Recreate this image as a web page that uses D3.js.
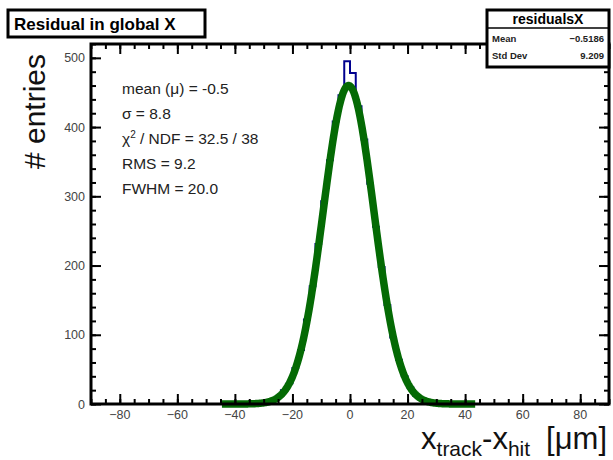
<!DOCTYPE html>
<html>
<head>
<meta charset="utf-8">
<script src="https://cdn.jsdelivr.net/npm/d3@7"></script>
<style>
  html, body { margin: 0; padding: 0; background: #fff; }
  svg { display: block; font-family: "Liberation Sans", Arial, Helvetica, sans-serif; }
</style>
</head>
<body>
<svg id="chart" width="613" height="460"></svg>
<script>
// Histogram of track residuals: bin centres (µm) and entries per bin
const binWidth = 2;
const binCenters = [-37, -35, -33, -31, -29, -27, -25, -23, -21, -19, -17, -15, -13, -11, -9, -7, -5, -3, -1,
                    1, 3, 5, 7, 9, 11, 13, 15, 17, 19, 21, 23, 25, 27, 29, 31, 33];
const binCounts  = [0, 1, 0, 1, 3, 5, 9, 20, 30, 52, 78, 122, 170, 231, 293, 352, 408, 446, 495,
                    478, 430, 382, 318, 256, 198, 143, 96, 64, 40, 24, 12, 7, 3, 2, 1, 0];

// Gaussian fit parameters
const fitConstant = 460;
const fitMean = -0.5;
const fitSigma = 8.8;
const fitRange = [-44.5, 43.5];

// Axis ticks
const xTickValues = [-80, -60, -40, -20, 0, 20, 40, 60, 80];
const yTickValues = [0, 100, 200, 300, 400, 500];

// Annotation and statistics texts
const fitLines = ["mean (\u03bc) = -0.5", "\u03c3 = 8.8", "CHI", "RMS = 9.2", "FWHM = 20.0"];
const statsName = "residualsX";
const statsRows = [["Mean", "\u22120.5186"], ["Std Dev", "9.209"]];
const titleText = "Residual in global X";

const svg = d3.select("#chart");
const frame = { left: 91, right: 609, top: 44, bottom: 404 };

const x = d3.scaleLinear().domain([-90, 90]).range([frame.left, frame.right]);
const y = d3.scaleLinear().domain([0, 520]).range([frame.bottom, frame.top]);

// Histogram outline (step line)
const steps = [];
binCenters.forEach((c, i) => {
  steps.push([c - binWidth / 2, binCounts[i]]);
  steps.push([c + binWidth / 2, binCounts[i]]);
});
const stepLine = d3.line().x(d => x(d[0])).y(d => y(d[1]));
svg.append("path")
  .attr("d", stepLine([[binCenters[0] - binWidth / 2, 0], ...steps, [binCenters[binCenters.length - 1] + binWidth / 2, 0]]))
  .attr("fill", "none")
  .attr("stroke", "#00008f")
  .attr("stroke-width", 2);

// Fit curve
const gauss = v => fitConstant * Math.exp(-0.5 * ((v - fitMean) / fitSigma) ** 2);
const fitPts = d3.range(fitRange[0], fitRange[1] + 0.01, 0.25).map(v => [v, gauss(v)]);
svg.append("path")
  .attr("d", d3.line().x(d => x(d[0])).y(d => y(d[1]))(fitPts))
  .attr("fill", "none")
  .attr("stroke", "#046a04")
  .attr("stroke-width", 7.5)
  .attr("stroke-linejoin", "round");

// Axes: ticks inward on all four sides
function drawTicks(axisGen, transform) {
  const g = svg.append("g").attr("transform", transform).call(axisGen);
  g.select(".domain").remove();
  g.selectAll("line").attr("stroke", "#000").attr("stroke-width", 2);
  return g;
}
const xMinor = d3.range(-90, 91, 5);
const yMinor = d3.range(0, 521, 20);

drawTicks(d3.axisTop(x).tickValues(xMinor).tickSize(5).tickFormat(""), `translate(0,${frame.bottom})`);
drawTicks(d3.axisTop(x).tickValues(xTickValues).tickSize(10).tickFormat(""), `translate(0,${frame.bottom})`);
drawTicks(d3.axisBottom(x).tickValues(xMinor).tickSize(5).tickFormat(""), `translate(0,${frame.top})`);
drawTicks(d3.axisBottom(x).tickValues(xTickValues).tickSize(10).tickFormat(""), `translate(0,${frame.top})`);
drawTicks(d3.axisRight(y).tickValues(yMinor).tickSize(5).tickFormat(""), `translate(${frame.left},0)`);
drawTicks(d3.axisRight(y).tickValues(yTickValues).tickSize(10).tickFormat(""), `translate(${frame.left},0)`);
drawTicks(d3.axisLeft(y).tickValues(yMinor).tickSize(5).tickFormat(""), `translate(${frame.right},0)`);
drawTicks(d3.axisLeft(y).tickValues(yTickValues).tickSize(10).tickFormat(""), `translate(${frame.right},0)`);

// Tick labels
const fmt = v => v < 0 ? "\u2212" + Math.abs(v) : String(v);
svg.append("g").selectAll("text").data(xTickValues).join("text")
  .attr("x", d => x(d)).attr("y", frame.bottom + 15)
  .attr("text-anchor", "middle").attr("font-size", 12.5).attr("fill", "#444")
  .text(fmt);
svg.append("g").selectAll("text").data(yTickValues).join("text")
  .attr("x", frame.left - 6).attr("y", d => y(d) + 4.5)
  .attr("text-anchor", "end").attr("font-size", 12.5).attr("fill", "#444")
  .text(d => d);

// Frame
svg.append("rect")
  .attr("x", frame.left).attr("y", frame.top)
  .attr("width", frame.right - frame.left).attr("height", frame.bottom - frame.top)
  .attr("fill", "none").attr("stroke", "#000").attr("stroke-width", 3);

// Axis titles
svg.append("text")
  .attr("transform", `translate(45,${frame.top + 10}) rotate(-90)`)
  .attr("text-anchor", "end").attr("font-size", 30).attr("fill", "#111")
  .text("# entries");

const xt = svg.append("text")
  .attr("x", 607).attr("y", 449)
  .attr("text-anchor", "end").attr("font-size", 31).attr("fill", "#111");
xt.append("tspan").text("x");
xt.append("tspan").attr("font-size", 21).attr("dy", 7).text("track");
xt.append("tspan").attr("dy", -7).text("-x");
xt.append("tspan").attr("font-size", 21).attr("dy", 7).text("hit");
xt.append("tspan").attr("dy", -7).attr("dx", 16).text("[\u03bcm]");

// Fit annotation
const ann = svg.append("g").attr("font-size", 15.5).attr("fill", "#222");
fitLines.forEach((t, i) => {
  const ty = 94 + i * 25;
  if (t === "CHI") {
    const tx = ann.append("text").attr("x", 122).attr("y", ty);
    tx.append("tspan").text("\u03c7");
    tx.append("tspan").attr("font-size", 10).attr("dy", -6).text("2");
    tx.append("tspan").attr("dy", 6).text(" / NDF = 32.5 / 38");
  } else {
    ann.append("text").attr("x", 122).attr("y", ty).text(t);
  }
});

// Title box
svg.append("rect").attr("x", 8).attr("y", 10).attr("width", 197).attr("height", 27)
  .attr("fill", "#fff").attr("stroke", "#000").attr("stroke-width", 3);
svg.append("text").attr("x", 14).attr("y", 30).attr("font-size", 17).attr("font-weight", "bold")
  .attr("fill", "#000").text(titleText);

// Statistics box
const sb = { x: 487, y: 10, w: 122, h: 57 };
svg.append("rect").attr("x", sb.x).attr("y", sb.y).attr("width", sb.w).attr("height", sb.h)
  .attr("fill", "#fff").attr("stroke", "#000").attr("stroke-width", 3);
svg.append("line").attr("x1", sb.x).attr("x2", sb.x + sb.w).attr("y1", 28).attr("y2", 28)
  .attr("stroke", "#000").attr("stroke-width", 1.5);
svg.append("text").attr("x", sb.x + sb.w / 2).attr("y", 24).attr("text-anchor", "middle")
  .attr("font-size", 14).attr("font-weight", "bold").text(statsName);
statsRows.forEach((r, i) => {
  const ry = 42 + i * 17;
  svg.append("text").attr("x", sb.x + 5).attr("y", ry).attr("font-size", 9.5)
    .attr("font-weight", "bold").attr("fill", "#222").text(r[0]);
  svg.append("text").attr("x", sb.x + sb.w - 5).attr("y", ry).attr("font-size", 9.5)
    .attr("font-weight", "bold").attr("fill", "#222").attr("text-anchor", "end").text(r[1]);
});
</script>
</body>
</html>
